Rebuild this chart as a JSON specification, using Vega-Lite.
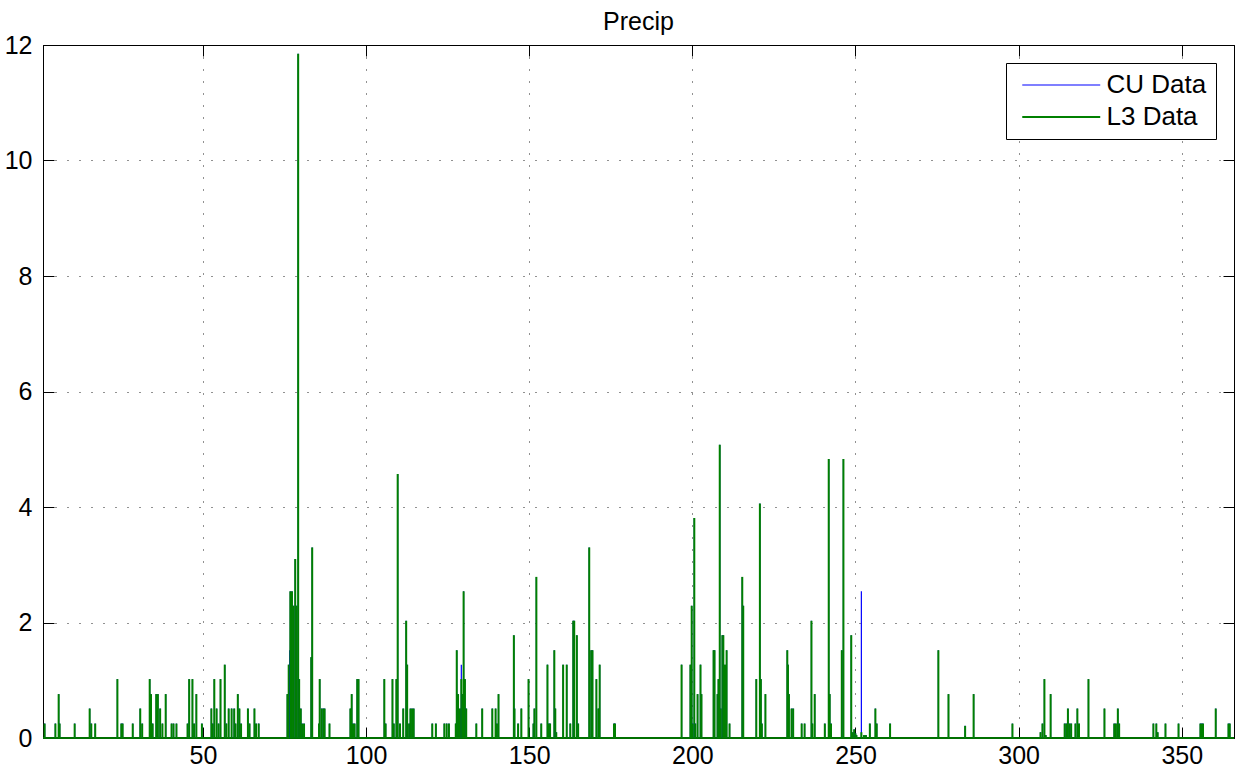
{
  "$schema": "https://vega.github.io/schema/vega-lite/v6.json",
  "width": 1191,
  "height": 693,
  "autosize": {"type": "none"},
  "padding": {"left": 43, "top": 45, "right": 7, "bottom": 43},
  "background": "white",
  "title": {"text": "Precip", "fontSize": 25, "font": "Liberation Sans", "fontWeight": "normal", "color": "black", "baseline": "alphabetic", "offset": -22, "anchor": "middle", "frame": "group"},
  "config": {
    "font": "Liberation Sans",
    "view": {"stroke": "black", "strokeWidth": 1},
    "axis": {"domainColor": "black", "domainWidth": 1, "tickColor": "black", "tickWidth": 1, "labelColor": "black", "labelFontSize": 25, "labelFont": "Liberation Sans", "gridColor": "#222", "gridDash": [1, 11], "gridOpacity": 1, "gridWidth": 1, "tickSize": -11, "title": null}
  },
  "datasets": {
    "base": [
      {"series": "CU Data", "start": 1, "end": 366},
      {"series": "L3 Data", "start": 1, "end": 366}
    ],
    "precip": [
      {"day": 1.5, "CU Data": 0.25, "L3 Data": 0.25},
      {"day": 4.8, "CU Data": 0.25, "L3 Data": 0.25},
      {"day": 5.8, "CU Data": 0.76, "L3 Data": 0.76},
      {"day": 6.1, "CU Data": 0.25, "L3 Data": 0.25},
      {"day": 10.7, "CU Data": 0.25, "L3 Data": 0.25},
      {"day": 15.3, "CU Data": 0.51, "L3 Data": 0.51},
      {"day": 15.8, "CU Data": 0.25, "L3 Data": 0.25},
      {"day": 17.0, "CU Data": 0.25, "L3 Data": 0.25},
      {"day": 23.8, "CU Data": 1.02, "L3 Data": 1.02},
      {"day": 25.0, "CU Data": 0.25, "L3 Data": 0.25},
      {"day": 25.4, "CU Data": 0.25, "L3 Data": 0.25},
      {"day": 28.5, "CU Data": 0.25, "L3 Data": 0.25},
      {"day": 30.8, "CU Data": 0.51, "L3 Data": 0.51},
      {"day": 31.4, "CU Data": 0.25, "L3 Data": 0.25},
      {"day": 33.7, "CU Data": 1.02, "L3 Data": 1.02},
      {"day": 34.1, "CU Data": 0.76, "L3 Data": 0.76},
      {"day": 34.6, "CU Data": 0.25, "L3 Data": 0.25},
      {"day": 35.7, "CU Data": 0.76, "L3 Data": 0.76},
      {"day": 36.2, "CU Data": 0.76, "L3 Data": 0.76},
      {"day": 36.9, "CU Data": 0.51, "L3 Data": 0.51},
      {"day": 37.6, "CU Data": 0.25, "L3 Data": 0.25},
      {"day": 38.6, "CU Data": 0.76, "L3 Data": 0.76},
      {"day": 40.4, "CU Data": 0.25, "L3 Data": 0.25},
      {"day": 41.0, "CU Data": 0.25, "L3 Data": 0.25},
      {"day": 41.9, "CU Data": 0.25, "L3 Data": 0.25},
      {"day": 45.3, "CU Data": 0.25, "L3 Data": 0.25},
      {"day": 45.8, "CU Data": 1.02, "L3 Data": 1.02},
      {"day": 46.8, "CU Data": 1.02, "L3 Data": 1.02},
      {"day": 47.3, "CU Data": 0.25, "L3 Data": 0.25},
      {"day": 48.0, "CU Data": 0.76, "L3 Data": 0.76},
      {"day": 49.7, "CU Data": 0.25, "L3 Data": 0.25},
      {"day": 52.6, "CU Data": 0.51, "L3 Data": 0.51},
      {"day": 53.0, "CU Data": 0.25, "L3 Data": 0.25},
      {"day": 53.5, "CU Data": 1.02, "L3 Data": 1.02},
      {"day": 54.2, "CU Data": 0.51, "L3 Data": 0.51},
      {"day": 54.8, "CU Data": 0.25, "L3 Data": 0.25},
      {"day": 55.4, "CU Data": 1.02, "L3 Data": 1.02},
      {"day": 56.7, "CU Data": 1.27, "L3 Data": 1.27},
      {"day": 57.2, "CU Data": 0.25, "L3 Data": 0.25},
      {"day": 57.9, "CU Data": 0.51, "L3 Data": 0.51},
      {"day": 58.8, "CU Data": 0.51, "L3 Data": 0.51},
      {"day": 59.6, "CU Data": 0.51, "L3 Data": 0.51},
      {"day": 60.0, "CU Data": 0.25, "L3 Data": 0.25},
      {"day": 60.7, "CU Data": 0.76, "L3 Data": 0.76},
      {"day": 61.2, "CU Data": 0.51, "L3 Data": 0.51},
      {"day": 61.7, "CU Data": 0.25, "L3 Data": 0.25},
      {"day": 63.8, "CU Data": 0.51, "L3 Data": 0.51},
      {"day": 64.3, "CU Data": 0.25, "L3 Data": 0.25},
      {"day": 65.8, "CU Data": 0.51, "L3 Data": 0.51},
      {"day": 66.3, "CU Data": 0.25, "L3 Data": 0.25},
      {"day": 67.1, "CU Data": 0.25, "L3 Data": 0.25},
      {"day": 75.9, "CU Data": 0.76, "L3 Data": 0.76},
      {"day": 76.3, "CU Data": 1.27, "L3 Data": 1.27},
      {"day": 76.6, "CU Data": 1.52, "L3 Data": null},
      {"day": 76.8, "CU Data": 2.54, "L3 Data": 2.54},
      {"day": 77.3, "CU Data": 2.54, "L3 Data": 2.54},
      {"day": 77.8, "CU Data": 2.29, "L3 Data": 2.29},
      {"day": 78.3, "CU Data": 3.1, "L3 Data": 3.1},
      {"day": 78.7, "CU Data": 2.29, "L3 Data": 2.29},
      {"day": 79.2, "CU Data": 11.85, "L3 Data": 11.85},
      {"day": 79.5, "CU Data": 1.02, "L3 Data": 1.02},
      {"day": 79.8, "CU Data": 0.25, "L3 Data": 0.25},
      {"day": 80.0, "CU Data": 0.51, "L3 Data": 0.51},
      {"day": 80.4, "CU Data": 0.25, "L3 Data": 0.25},
      {"day": 81.0, "CU Data": 0.25, "L3 Data": 0.25},
      {"day": 83.2, "CU Data": 1.4, "L3 Data": 1.4},
      {"day": 83.5, "CU Data": 3.3, "L3 Data": 3.3},
      {"day": 85.6, "CU Data": 0.25, "L3 Data": 0.25},
      {"day": 85.8, "CU Data": 1.02, "L3 Data": 1.02},
      {"day": 86.4, "CU Data": 0.51, "L3 Data": 0.51},
      {"day": 86.9, "CU Data": 0.51, "L3 Data": 0.51},
      {"day": 87.3, "CU Data": 0.51, "L3 Data": 0.51},
      {"day": 88.8, "CU Data": 0.25, "L3 Data": 0.25},
      {"day": 95.2, "CU Data": 0.51, "L3 Data": 0.51},
      {"day": 95.6, "CU Data": 0.76, "L3 Data": 0.76},
      {"day": 96.0, "CU Data": 0.25, "L3 Data": 0.25},
      {"day": 96.5, "CU Data": 0.25, "L3 Data": 0.25},
      {"day": 97.3, "CU Data": 1.02, "L3 Data": 1.02},
      {"day": 97.7, "CU Data": 1.02, "L3 Data": 1.02},
      {"day": 105.6, "CU Data": 1.02, "L3 Data": 1.02},
      {"day": 106.0, "CU Data": 0.25, "L3 Data": 0.25},
      {"day": 108.1, "CU Data": 1.02, "L3 Data": 1.02},
      {"day": 108.5, "CU Data": 0.25, "L3 Data": 0.25},
      {"day": 109.3, "CU Data": 1.02, "L3 Data": 1.02},
      {"day": 109.7, "CU Data": 4.57, "L3 Data": 4.57},
      {"day": 110.4, "CU Data": 0.25, "L3 Data": 0.25},
      {"day": 111.4, "CU Data": 0.51, "L3 Data": 0.51},
      {"day": 112.3, "CU Data": 2.03, "L3 Data": 2.03},
      {"day": 112.6, "CU Data": 1.27, "L3 Data": 1.27},
      {"day": 113.2, "CU Data": 0.25, "L3 Data": 0.25},
      {"day": 113.6, "CU Data": 0.51, "L3 Data": 0.51},
      {"day": 114.1, "CU Data": 0.51, "L3 Data": 0.51},
      {"day": 114.6, "CU Data": 0.51, "L3 Data": 0.51},
      {"day": 120.3, "CU Data": 0.25, "L3 Data": 0.25},
      {"day": 121.4, "CU Data": 0.25, "L3 Data": 0.25},
      {"day": 124.0, "CU Data": 0.25, "L3 Data": 0.25},
      {"day": 124.7, "CU Data": 0.25, "L3 Data": 0.25},
      {"day": 125.4, "CU Data": 0.25, "L3 Data": 0.25},
      {"day": 127.5, "CU Data": 0.25, "L3 Data": 0.25},
      {"day": 127.8, "CU Data": 1.52, "L3 Data": 1.52},
      {"day": 128.2, "CU Data": 0.76, "L3 Data": 0.76},
      {"day": 128.8, "CU Data": 0.51, "L3 Data": 0.51},
      {"day": 129.2, "CU Data": 1.27, "L3 Data": 1.02},
      {"day": 129.5, "CU Data": 0.76, "L3 Data": 0.76},
      {"day": 129.9, "CU Data": 2.54, "L3 Data": 2.54},
      {"day": 130.3, "CU Data": 1.02, "L3 Data": 1.02},
      {"day": 130.7, "CU Data": 0.51, "L3 Data": 0.51},
      {"day": 133.8, "CU Data": 0.25, "L3 Data": 0.25},
      {"day": 135.6, "CU Data": 0.51, "L3 Data": 0.51},
      {"day": 138.7, "CU Data": 0.51, "L3 Data": 0.51},
      {"day": 139.7, "CU Data": 0.51, "L3 Data": 0.51},
      {"day": 140.1, "CU Data": 0.25, "L3 Data": 0.25},
      {"day": 140.6, "CU Data": 0.76, "L3 Data": 0.76},
      {"day": 145.3, "CU Data": 1.78, "L3 Data": 1.78},
      {"day": 145.5, "CU Data": 0.51, "L3 Data": 0.51},
      {"day": 146.6, "CU Data": 0.25, "L3 Data": 0.25},
      {"day": 147.6, "CU Data": 0.51, "L3 Data": 0.51},
      {"day": 149.8, "CU Data": 1.02, "L3 Data": 1.02},
      {"day": 151.3, "CU Data": 0.25, "L3 Data": 0.25},
      {"day": 151.6, "CU Data": 0.51, "L3 Data": 0.51},
      {"day": 152.2, "CU Data": 2.79, "L3 Data": 2.79},
      {"day": 153.7, "CU Data": 0.25, "L3 Data": 0.25},
      {"day": 155.6, "CU Data": 1.27, "L3 Data": 1.27},
      {"day": 156.0, "CU Data": 0.25, "L3 Data": 0.25},
      {"day": 156.4, "CU Data": 0.25, "L3 Data": 0.25},
      {"day": 157.7, "CU Data": 1.52, "L3 Data": 1.52},
      {"day": 158.0, "CU Data": 0.51, "L3 Data": 0.51},
      {"day": 158.3, "CU Data": 0.1, "L3 Data": 0.1},
      {"day": 160.4, "CU Data": 1.27, "L3 Data": 1.27},
      {"day": 161.5, "CU Data": 1.27, "L3 Data": 1.27},
      {"day": 162.6, "CU Data": 0.25, "L3 Data": 0.25},
      {"day": 163.5, "CU Data": 2.03, "L3 Data": 2.03},
      {"day": 163.8, "CU Data": 2.03, "L3 Data": 2.03},
      {"day": 164.6, "CU Data": 1.78, "L3 Data": 1.78},
      {"day": 165.0, "CU Data": 0.25, "L3 Data": 0.25},
      {"day": 168.4, "CU Data": 3.3, "L3 Data": 3.3},
      {"day": 169.0, "CU Data": 1.52, "L3 Data": 1.52},
      {"day": 169.4, "CU Data": 1.52, "L3 Data": 1.52},
      {"day": 170.6, "CU Data": 1.02, "L3 Data": 1.02},
      {"day": 171.2, "CU Data": 0.51, "L3 Data": 0.51},
      {"day": 171.6, "CU Data": 1.27, "L3 Data": 1.27},
      {"day": 176.0, "CU Data": 0.25, "L3 Data": 0.25},
      {"day": 176.3, "CU Data": 0.25, "L3 Data": 0.25},
      {"day": 196.7, "CU Data": 1.27, "L3 Data": 1.27},
      {"day": 199.4, "CU Data": 1.27, "L3 Data": 1.27},
      {"day": 199.8, "CU Data": 2.29, "L3 Data": 2.29},
      {"day": 200.1, "CU Data": 0.25, "L3 Data": 0.25},
      {"day": 200.6, "CU Data": 3.81, "L3 Data": 3.81},
      {"day": 200.9, "CU Data": 0.25, "L3 Data": 0.25},
      {"day": 201.6, "CU Data": 0.76, "L3 Data": 0.76},
      {"day": 202.5, "CU Data": 1.27, "L3 Data": 1.27},
      {"day": 202.8, "CU Data": 0.76, "L3 Data": 0.76},
      {"day": 206.5, "CU Data": 1.52, "L3 Data": 1.52},
      {"day": 206.8, "CU Data": 1.52, "L3 Data": 1.52},
      {"day": 207.7, "CU Data": 0.76, "L3 Data": 0.76},
      {"day": 208.0, "CU Data": 1.02, "L3 Data": 1.02},
      {"day": 208.4, "CU Data": 5.08, "L3 Data": 5.08},
      {"day": 208.7, "CU Data": 0.51, "L3 Data": 0.51},
      {"day": 209.2, "CU Data": 1.78, "L3 Data": 1.78},
      {"day": 209.5, "CU Data": 1.78, "L3 Data": 1.78},
      {"day": 210.0, "CU Data": 1.27, "L3 Data": 1.27},
      {"day": 210.5, "CU Data": 1.52, "L3 Data": 1.52},
      {"day": 211.4, "CU Data": 0.25, "L3 Data": 0.25},
      {"day": 215.3, "CU Data": 2.79, "L3 Data": 2.79},
      {"day": 215.6, "CU Data": 2.29, "L3 Data": 2.29},
      {"day": 219.6, "CU Data": 1.02, "L3 Data": 1.02},
      {"day": 220.7, "CU Data": 4.06, "L3 Data": 4.06},
      {"day": 221.0, "CU Data": 1.02, "L3 Data": 1.02},
      {"day": 221.3, "CU Data": 0.25, "L3 Data": 0.25},
      {"day": 222.4, "CU Data": 0.76, "L3 Data": 0.76},
      {"day": 229.1, "CU Data": 1.52, "L3 Data": 1.52},
      {"day": 229.3, "CU Data": 1.27, "L3 Data": 1.27},
      {"day": 229.6, "CU Data": 0.76, "L3 Data": 0.76},
      {"day": 230.4, "CU Data": 0.51, "L3 Data": 0.51},
      {"day": 230.9, "CU Data": 0.51, "L3 Data": 0.51},
      {"day": 233.5, "CU Data": 0.25, "L3 Data": 0.25},
      {"day": 234.4, "CU Data": 0.25, "L3 Data": 0.25},
      {"day": 236.5, "CU Data": 2.03, "L3 Data": 2.03},
      {"day": 236.8, "CU Data": 0.25, "L3 Data": 0.25},
      {"day": 237.5, "CU Data": 0.76, "L3 Data": 0.76},
      {"day": 240.6, "CU Data": 0.25, "L3 Data": 0.25},
      {"day": 241.8, "CU Data": 4.83, "L3 Data": 4.83},
      {"day": 242.1, "CU Data": 0.76, "L3 Data": 0.76},
      {"day": 242.5, "CU Data": 0.25, "L3 Data": 0.25},
      {"day": 245.8, "CU Data": 1.52, "L3 Data": 1.52},
      {"day": 246.3, "CU Data": 4.83, "L3 Data": 4.83},
      {"day": 248.7, "CU Data": 1.78, "L3 Data": 1.78},
      {"day": 249.2, "CU Data": 0.1, "L3 Data": 0.1},
      {"day": 249.6, "CU Data": 0.15, "L3 Data": 0.15},
      {"day": 250.0, "CU Data": 0.08, "L3 Data": 0.08},
      {"day": 250.3, "CU Data": 0.05, "L3 Data": 0.05},
      {"day": 251.8, "CU Data": 2.54, "L3 Data": 0.1},
      {"day": 252.6, "CU Data": 0.05, "L3 Data": 0.05},
      {"day": 253.2, "CU Data": 0.05, "L3 Data": 0.05},
      {"day": 254.4, "CU Data": 0.25, "L3 Data": 0.25},
      {"day": 256.1, "CU Data": 0.51, "L3 Data": 0.51},
      {"day": 256.5, "CU Data": 0.25, "L3 Data": 0.25},
      {"day": 260.6, "CU Data": 0.25, "L3 Data": 0.25},
      {"day": 275.4, "CU Data": 1.52, "L3 Data": 1.52},
      {"day": 278.5, "CU Data": 0.76, "L3 Data": 0.76},
      {"day": 283.6, "CU Data": 0.21, "L3 Data": 0.21},
      {"day": 286.2, "CU Data": 0.76, "L3 Data": 0.76},
      {"day": 298.1, "CU Data": 0.25, "L3 Data": 0.25},
      {"day": 306.7, "CU Data": 0.1, "L3 Data": 0.1},
      {"day": 307.3, "CU Data": 0.25, "L3 Data": 0.25},
      {"day": 307.9, "CU Data": 1.02, "L3 Data": 1.02},
      {"day": 308.3, "CU Data": 0.05, "L3 Data": 0.05},
      {"day": 309.8, "CU Data": 0.76, "L3 Data": 0.76},
      {"day": 314.1, "CU Data": 0.25, "L3 Data": 0.25},
      {"day": 314.6, "CU Data": 0.25, "L3 Data": 0.25},
      {"day": 315.1, "CU Data": 0.51, "L3 Data": 0.51},
      {"day": 315.6, "CU Data": 0.25, "L3 Data": 0.25},
      {"day": 316.1, "CU Data": 0.25, "L3 Data": 0.25},
      {"day": 317.4, "CU Data": 0.25, "L3 Data": 0.25},
      {"day": 318.0, "CU Data": 0.51, "L3 Data": 0.51},
      {"day": 318.5, "CU Data": 0.25, "L3 Data": 0.25},
      {"day": 321.4, "CU Data": 1.02, "L3 Data": 1.02},
      {"day": 326.3, "CU Data": 0.51, "L3 Data": 0.51},
      {"day": 329.3, "CU Data": 0.25, "L3 Data": 0.25},
      {"day": 329.8, "CU Data": 0.25, "L3 Data": 0.25},
      {"day": 330.4, "CU Data": 0.51, "L3 Data": 0.51},
      {"day": 330.8, "CU Data": 0.25, "L3 Data": 0.25},
      {"day": 341.3, "CU Data": 0.25, "L3 Data": 0.25},
      {"day": 342.2, "CU Data": 0.25, "L3 Data": 0.25},
      {"day": 342.6, "CU Data": 0.1, "L3 Data": 0.1},
      {"day": 345.0, "CU Data": 0.25, "L3 Data": 0.25},
      {"day": 349.0, "CU Data": 0.25, "L3 Data": 0.25},
      {"day": 355.7, "CU Data": 0.25, "L3 Data": 0.25},
      {"day": 356.1, "CU Data": 0.25, "L3 Data": 0.25},
      {"day": 356.5, "CU Data": 0.25, "L3 Data": 0.25},
      {"day": 360.4, "CU Data": 0.51, "L3 Data": 0.51},
      {"day": 364.3, "CU Data": 0.25, "L3 Data": 0.25},
      {"day": 364.7, "CU Data": 0.25, "L3 Data": 0.25}
    ]
  },
  "layer": [
    {
      "data": {"name": "base"},
      "mark": {"type": "rule", "opacity": 0},
      "encoding": {
        "x": {"field": "start", "type": "quantitative", "scale": {"domain": [1, 366], "nice": false, "zero": false}, "axis": {"orient": "bottom", "values": [50, 100, 150, 200, 250, 300, 350], "grid": true, "labelPadding": 16}},
        "x2": {"field": "end"},
        "y": {"datum": 0, "type": "quantitative", "scale": {"domain": [0, 12], "nice": false}, "axis": {"orient": "left", "values": [0, 2, 4, 6, 8, 10, 12], "grid": true, "labelPadding": 22}}
      }
    },
    {
      "data": {"name": "base"},
      "mark": {"type": "rule", "strokeWidth": 2, "color": "#007000"},
      "encoding": {
        "x": {"field": "start", "type": "quantitative", "axis": null},
        "x2": {"field": "end"},
        "y": {"datum": 0, "type": "quantitative", "axis": null}
      }
    },
    {
      "data": {"name": "precip"},
      "transform": [
        {"fold": ["CU Data", "L3 Data"], "as": ["series", "value"]},
        {"filter": "datum.value != null"}
      ],
      "mark": {"type": "rule"},
      "encoding": {
        "x": {"field": "day", "type": "quantitative", "axis": null},
        "y": {"field": "value", "type": "quantitative", "axis": null},
        "y2": {"datum": 0},
        "strokeWidth": {"field": "series", "type": "nominal", "scale": {"domain": ["CU Data", "L3 Data"], "range": [1.2, 2]}, "legend": null},
        "color": {
          "field": "series", "type": "nominal",
          "scale": {"domain": ["CU Data", "L3 Data"], "range": ["#0000ff", "#008000"]},
          "legend": {"title": null, "orient": "none", "legendX": 963, "legendY": 18, "symbolType": "M-1,0H7", "symbolSize": 380, "symbolOffset": 4, "symbolStrokeWidth": 1.2, "symbolOpacity": 1, "labelFontSize": 26, "labelFont": "Liberation Sans", "labelColor": "black", "strokeColor": "black", "fillColor": "white", "padding": 9, "rowPadding": 6, "labelOffset": 61.5, "cornerRadius": 0}
        }
      }
    },
    {
      "data": {"name": "base"},
      "mark": {"type": "rule", "opacity": 0},
      "encoding": {
        "x": {"field": "start", "type": "quantitative", "axis": {"orient": "top", "values": [50, 100, 150, 200, 250, 300, 350], "labels": false, "grid": false}},
        "x2": {"field": "end"},
        "y": {"datum": 0, "type": "quantitative", "axis": {"orient": "right", "values": [0, 2, 4, 6, 8, 10, 12], "labels": false, "grid": false}}
      }
    }
  ],
  "resolve": {"axis": {"x": "independent", "y": "independent"}}
}
